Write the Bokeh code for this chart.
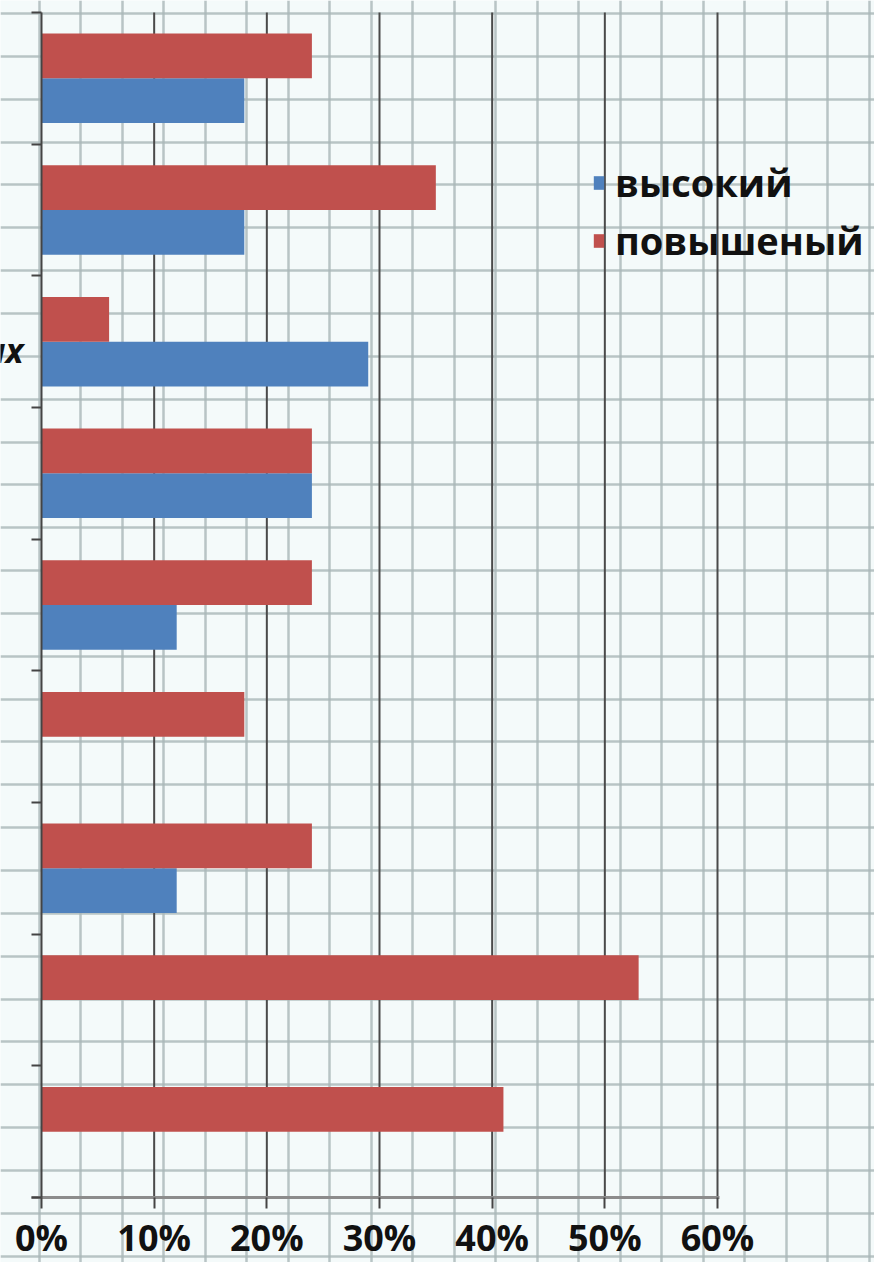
from bokeh.plotting import figure
from bokeh.models import (FixedTicker, LinearAxis, Range1d, ColumnDataSource,
                          Legend, LegendItem, Grid)
from bokeh.core.properties import value
from bokeh.embed import file_html
from bokeh.resources import INLINE

# ---------------- data (categories listed top to bottom) ----------------
categories = [1, 2, 3, 4, 5, 6, 7, 8, 9]
vysokiy = [18, 18, 29, 24, 12, 0, 12, 0, 0]          # "высокий"  (blue)
povysheny = [24, 35, 6, 24, 24, 18, 24, 53, 41]       # "повышеный" (red)
series_names = ["высокий", "повышеный"]
x_ticks = [0, 10, 20, 30, 40, 50, 60]
x_tick_labels = ["0%", "10%", "20%", "30%", "40%", "50%", "60%"]
partial_label = "ых"           # only visible tail of the 3rd category label
partial_label_index = 2

# ---------------- layout constants ----------------
W, H = 874, 1262
X0_PX = 41.0                   # canvas px of 0 %
PX_PER_PCT = 676.0 / 60.0
Y0_PX = 1197.0                 # canvas px (from top) of the category axis bottom
PX_PER_CAT = 1185.0 / 9.0
BAR_H = 0.34

n = len(categories)
x_start = -X0_PX / PX_PER_PCT
x_end = (W - X0_PX) / PX_PER_PCT
y_start = -(H - Y0_PX) / PX_PER_CAT
y_end = Y0_PX / PX_PER_CAT

BG = "#f4fafa"
BLUE = "#4f81bd"
RED = "#c0504d"

p = figure(width=W, height=H, x_range=Range1d(x_start, x_end),
           y_range=Range1d(y_start, y_end), output_backend="svg",
           toolbar_location=None, min_border=0,
           x_axis_location=None, y_axis_location=None,
           background_fill_color=BG, border_fill_color=BG,
           outline_line_color=None)
p.grid.visible = False

# graph-paper background (decoration)
paper_x = [((38.5 + 41.5 * k) - X0_PX) / PX_PER_PCT for k in range(21)]
paper_y = [(Y0_PX - (13.0 + 42.85 * k)) / PX_PER_CAT for k in range(30)]
gx = Grid(dimension=0, ticker=FixedTicker(ticks=paper_x),
          grid_line_color="#a9b7b8", grid_line_width=2.5, grid_line_alpha=0.8)
gy = Grid(dimension=1, ticker=FixedTicker(ticks=paper_y),
          grid_line_color="#a9b7b8", grid_line_width=2.5, grid_line_alpha=0.8)
p.add_layout(gx, "center")
p.add_layout(gy, "center")

# dark value gridlines at the 10 % ticks, spanning the category area
p.segment(x0=x_ticks[1:], y0=[0] * (len(x_ticks) - 1),
          x1=x_ticks[1:], y1=[n] * (len(x_ticks) - 1),
          line_color="#4a4a4a", line_width=2)

# bars
centers = [n - 0.5 - i for i in range(n)]
src = ColumnDataSource(dict(
    yb=[c - BAR_H / 2 for c in centers],
    yr=[c + BAR_H / 2 for c in centers],
    vb=vysokiy, vr=povysheny))
rb = p.hbar(y="yb", left=0, right="vb", height=BAR_H, source=src,
            fill_color=BLUE, line_color=None)
rr = p.hbar(y="yr", left=0, right="vr", height=BAR_H, source=src,
            fill_color=RED, line_color=None)

# axes
xaxis = LinearAxis(fixed_location=0, ticker=FixedTicker(ticks=x_ticks),
                   major_label_overrides={t: l for t, l in zip(x_ticks, x_tick_labels)},
                   bounds=(-0.9, 60.2),
                   axis_line_color="#8c8c8c", axis_line_width=3,
                   major_tick_line_color="#444444", major_tick_line_width=2,
                   major_tick_out=11, major_tick_in=0,
                   minor_tick_line_color=None,
                   major_label_standoff=4,
                   major_label_text_font="Open Sans",
                   major_label_text_font_style="bold",
                   major_label_text_font_size="36px",
                   major_label_text_color="#111111")
p.add_layout(xaxis, "below")

y_ticks = list(range(n + 1))
yaxis = LinearAxis(fixed_location=0, ticker=FixedTicker(ticks=y_ticks),
                   major_label_overrides={t: "" for t in y_ticks},
                   bounds=(0, n),
                   axis_line_color="#444444", axis_line_width=2,
                   major_tick_line_color="#444444", major_tick_line_width=2,
                   major_tick_out=10, major_tick_in=0,
                   minor_tick_line_color=None)
p.add_layout(yaxis, "left")

# visible fragment of a category label
p.text(x=[(23 - X0_PX) / PX_PER_PCT], y=[centers[partial_label_index]],
       text=[partial_label], text_align="right", text_baseline="middle",
       y_offset=8, text_font=value("Open Sans"), text_font_style="bold italic",
       text_font_size="34px", text_color="#111111")

legend = Legend(items=[LegendItem(label=series_names[0], renderers=[rb]),
                       LegendItem(label=series_names[1], renderers=[rr])],
                location=(592, H - 156 - 110),
                background_fill_alpha=0, border_line_color=None,
                padding=0, margin=0, spacing=6,
                glyph_width=13, glyph_height=17, label_standoff=10,
                label_text_font="Open Sans", label_text_font_style="bold",
                label_text_font_size="38px", label_text_color="#111111")
p.add_layout(legend)

open("out.html", "w").write(file_html(p, INLINE))
